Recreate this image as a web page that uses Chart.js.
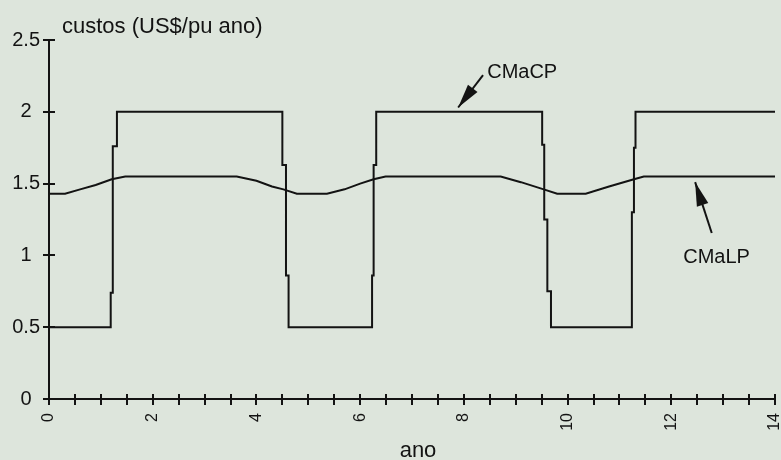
<!DOCTYPE html>
<html>
<head>
<meta charset="utf-8">
<script src="https://cdn.jsdelivr.net/npm/chart.js@4.4.0/dist/chart.umd.min.js"></script>
<style>
  html, body { margin: 0; padding: 0; background: #dde5dc; }
  canvas { display: block; }
</style>
</head>
<body>
<canvas id="chart" width="781" height="460"></canvas>
<script>
// series
const seriesNames = ['CMaCP', 'CMaLP'];

const cpX = [0, 1.19, 1.19, 1.23, 1.23, 1.31, 1.31, 4.50, 4.50, 4.57, 4.57, 4.62, 4.62,
    6.23, 6.23, 6.26, 6.26, 6.31, 6.31, 9.51, 9.51, 9.55, 9.55, 9.61, 9.61, 9.68, 9.68,
    11.24, 11.24, 11.28, 11.28, 11.31, 11.31, 14];
const cpY = [0.5, 0.5, 0.74, 0.74, 1.76, 1.76, 2, 2, 1.63, 1.63, 0.86, 0.86, 0.5,
    0.5, 0.86, 0.86, 1.63, 1.63, 2, 2, 1.77, 1.77, 1.25, 1.25, 0.75, 0.75, 0.5,
    0.5, 1.3, 1.3, 1.75, 1.75, 2, 2];

const lpX = [0, 0.31, 0.6, 0.9, 1.21, 1.47, 3.62, 4.0, 4.3, 4.52, 4.78, 5.36, 5.7, 6.0,
    6.26, 6.49, 8.71, 9.1, 9.54, 9.8, 10.35, 10.8, 11.28, 11.47, 14];
const lpY = [1.43, 1.43, 1.46, 1.49, 1.53, 1.55, 1.55, 1.52, 1.48, 1.46, 1.43, 1.43, 1.46, 1.50,
    1.53, 1.55, 1.55, 1.51, 1.46, 1.43, 1.43, 1.48, 1.53, 1.55, 1.55];

const xLabelValues = [0, 2, 4, 6, 8, 10, 12, 14];
const yTitle = 'custos (US$/pu ano)';
const xTitle = 'ano';

const ink = '#131313';
const font = '"Liberation Sans", Arial, sans-serif';

// where the labels and arrows sit, in data units
const notes = [
    { text: seriesNames[0], tx: 8.45, ty: 2.235, from: [8.37, 2.256], to: [7.89, 2.03] },
    { text: seriesNames[1], tx: 12.23, ty: 0.947, from: [12.78, 1.156], to: [12.46, 1.51] }
];

function toPoints(xs, ys){
    return xs.map((x, i) => ({ x: x, y: ys[i] }));
}

// tick marks that cross the axis lines
const crossTicks = {
    id: 'crossTicks',
    afterDraw(chart) {
        const ctx = chart.ctx;
        const x = chart.scales.x;
        const y = chart.scales.y;
        ctx.save();
        ctx.strokeStyle = ink;
        ctx.lineWidth = 2;
        ctx.beginPath();
        x.ticks.forEach(t => {
            const px = Math.round(x.getPixelForValue(t.value));
            ctx.moveTo(px, y.bottom - 5);
            ctx.lineTo(px, y.bottom + 6);
        });
        y.ticks.forEach(t => {
            const py = Math.round(y.getPixelForValue(t.value));
            ctx.moveTo(x.left - 6, py);
            ctx.lineTo(x.left + 6, py);
        });
        ctx.stroke();
        ctx.restore();
    }
};

function drawArrow(ctx, x1, y1, x2, y2, headLen, halfW){
    const ang = Math.atan2(y2 - y1, x2 - x1);
    ctx.beginPath();
    ctx.moveTo(x1, y1);
    ctx.lineTo(x2, y2);
    ctx.stroke();
    const bx = x2 - headLen * Math.cos(ang);
    const by = y2 - headLen * Math.sin(ang);
    ctx.beginPath();
    ctx.moveTo(x2, y2);
    ctx.lineTo(bx + halfW * Math.sin(ang), by - halfW * Math.cos(ang));
    ctx.lineTo(bx - halfW * Math.sin(ang), by + halfW * Math.cos(ang));
    ctx.closePath();
    ctx.fill();
}

// axis titles and series labels
const labelsPlugin = {
    id: 'labelsPlugin',
    afterDraw(chart) {
        const ctx = chart.ctx;
        const x = chart.scales.x;
        const y = chart.scales.y;
        const area = chart.chartArea;
        ctx.save();
        ctx.fillStyle = ink;
        ctx.strokeStyle = ink;
        ctx.lineWidth = 2;

        ctx.font = '22px ' + font;
        ctx.textAlign = 'left';
        ctx.textBaseline = 'alphabetic';
        ctx.fillText(yTitle, area.left + 13, area.top - 7);

        ctx.textAlign = 'center';
        ctx.fillText(xTitle, (area.left + area.right) / 2 + 6, 457);

        ctx.font = '20px ' + font;
        ctx.textAlign = 'left';
        notes.forEach(n => {
            ctx.fillText(n.text, x.getPixelForValue(n.tx), y.getPixelForValue(n.ty));
            drawArrow(ctx,
                x.getPixelForValue(n.from[0]), y.getPixelForValue(n.from[1]),
                x.getPixelForValue(n.to[0]), y.getPixelForValue(n.to[1]),
                24, 6);
        });
        ctx.restore();
    }
};

const ctx01 = document.getElementById('chart');

new Chart(ctx01, {
    type: 'line',
    data: {
        datasets: [{
            label: seriesNames[0],
            data: toPoints(cpX, cpY),
            borderColor: ink,
            borderWidth: 2,
            pointRadius: 0,
            tension: 0
        }, {
            label: seriesNames[1],
            data: toPoints(lpX, lpY),
            borderColor: ink,
            borderWidth: 2,
            pointRadius: 0,
            tension: 0
        }]
    },
    options: {
        responsive: false,
        animation: false,
        devicePixelRatio: 1,
        layout: { padding: { top: 40, right: 6, left: 0, bottom: 0 } },
        plugins: {
            legend: { display: false },
            tooltip: { enabled: false }
        },
        scales: {
            x: {
                type: 'linear',
                min: 0,
                max: 14,
                grid: { display: false, drawTicks: false },
                border: { display: true, color: ink, width: 2 },
                ticks: {
                    stepSize: 0.5,
                    autoSkip: false,
                    minRotation: 90,
                    maxRotation: 90,
                    padding: 14,
                    color: ink,
                    font: { family: font, size: 16 },
                    callback: v => xLabelValues.includes(v) ? String(v) : ''
                },
                afterFit: s => { s.height = 61; s.paddingLeft = 0; s.paddingRight = 0; }
            },
            y: {
                min: 0,
                max: 2.5,
                grid: { display: false, drawTicks: false },
                border: { display: true, color: ink, width: 2 },
                ticks: {
                    stepSize: 0.5,
                    padding: 9,
                    crossAlign: 'center',
                    color: ink,
                    font: { family: font, size: 20 },
                    callback: v => String(v)
                },
                afterFit: s => { s.width = 49; }
            }
        }
    },
    plugins: [crossTicks, labelsPlugin]
});
</script>
</body>
</html>
